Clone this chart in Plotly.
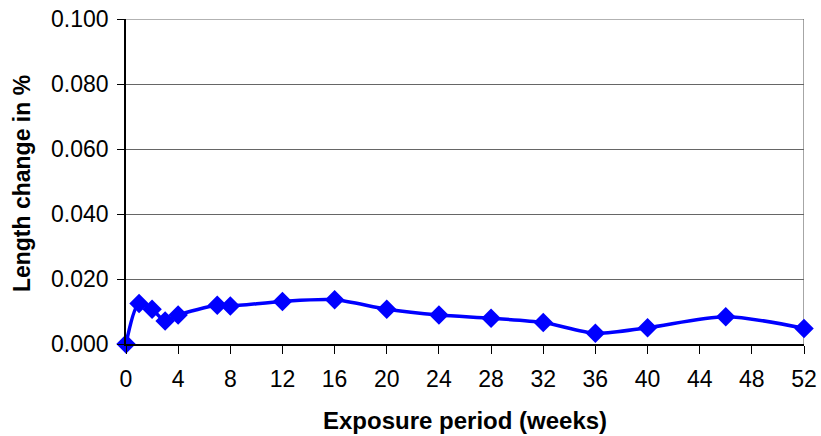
import plotly.graph_objects as go

weeks = [0, 1, 2, 3, 4, 7, 8, 12, 16, 20, 24, 28, 32, 36, 40, 46, 52]
length_change = [0.0, 0.0125, 0.0107, 0.0071, 0.0089, 0.0119, 0.0117, 0.0131,
                 0.0136, 0.0107, 0.0089, 0.0079, 0.0066, 0.0033, 0.0050, 0.0084, 0.0048]
x_ticks = list(range(0, 53, 4))
y_ticks = [0.0, 0.02, 0.04, 0.06, 0.08, 0.1]

fig = go.Figure()
fig.add_trace(go.Scatter(
    x=weeks, y=length_change, mode="lines+markers",
    line=dict(color="#0000FF", width=3.5, shape="spline", smoothing=0.8),
    marker=dict(symbol="diamond", size=15, color="#0000FF"),
    cliponaxis=False, showlegend=False,
))

font = "Liberation Sans, Arial, sans-serif"
grid_color = "#666666"
fig.update_layout(
    width=821, height=436,
    margin=dict(l=126, r=17, t=19, b=92),
    paper_bgcolor="white", plot_bgcolor="white",
    font=dict(family=font, size=23, color="black"),
    xaxis=dict(
        range=[0, 52], tickvals=x_ticks, ticks="outside", ticklen=8, tickcolor="black",
        showline=True, linecolor="black", linewidth=1.5, showgrid=False, zeroline=False,
        tickfont=dict(size=23), automargin=False, ticklabelstandoff=6,
        ticklabeloverflow="allow",
    ),
    yaxis=dict(
        range=[0, 0.1], tickvals=y_ticks, tickformat=".3f", ticks="outside", ticklen=7,
        tickcolor="black", showline=True, linecolor="black", linewidth=1.5,
        showgrid=True, gridcolor=grid_color, gridwidth=1, zeroline=False,
        tickfont=dict(size=23), automargin=False, ticklabelstandoff=4,
        ticklabeloverflow="allow",
    ),
    annotations=[
        dict(text="<b>Exposure period (weeks)</b>", xref="paper", yref="paper",
             x=0.5, y=0, xanchor="center", yanchor="middle", yshift=-76,
             showarrow=False, font=dict(size=24)),
        dict(text="<b>Length change in %</b>", xref="paper", yref="paper",
             x=0, y=0.492, xanchor="center", yanchor="middle", xshift=-104,
             textangle=-90, showarrow=False, font=dict(size=23)),
    ],
)
# top gridline (edge of plot area) and right border of the plot area
fig.add_shape(type="line", xref="paper", yref="y", x0=0, x1=1, y0=0.1, y1=0.1,
              line=dict(color=grid_color, width=1), layer="above")
fig.add_shape(type="line", xref="x", yref="y", x0=52, x1=52, y0=0, y1=0.1,
              line=dict(color="#888888", width=1.5), layer="below")
fig.write_html("out.html", config={"displayModeBar": False},
               post_script="document.body.style.margin='0';")
